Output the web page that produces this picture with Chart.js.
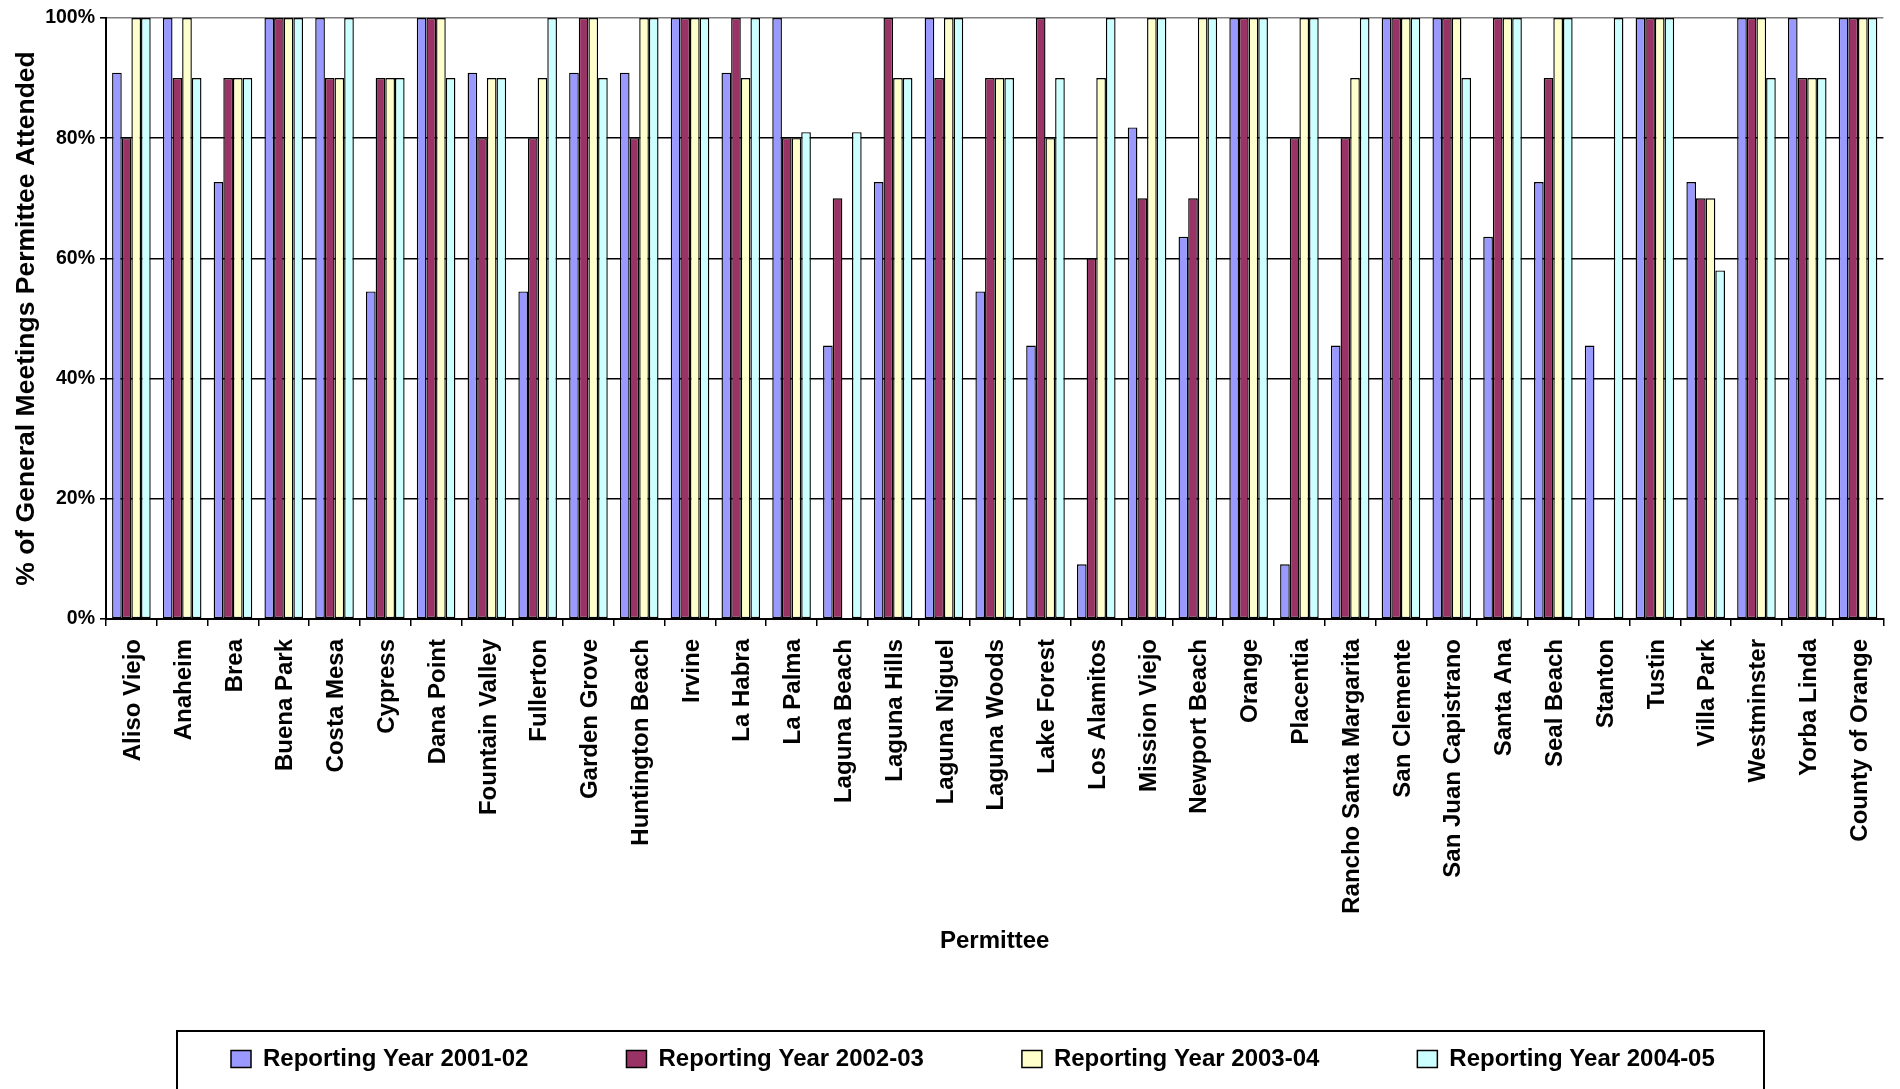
<!DOCTYPE html>
<html>
<head>
<meta charset="utf-8">
<title>General Meetings Attendance by Permittee</title>
<script src="https://cdn.jsdelivr.net/npm/chart.js@4.4.1/dist/chart.umd.min.js"></script>
<style>
  html, body { margin: 0; padding: 0; background: #ffffff; overflow: hidden; }
  canvas { display: block; }
</style>
</head>
<body>
<canvas id="attendance" width="1900" height="1089" style="width:1900px;height:1089px"></canvas>
<script>
// Permittees along the x axis
const categories = [
  'Aliso Viejo', 'Anaheim', 'Brea', 'Buena Park', 'Costa Mesa', 'Cypress', 'Dana Point',
  'Fountain Valley', 'Fullerton', 'Garden Grove', 'Huntington Beach', 'Irvine', 'La Habra',
  'La Palma', 'Laguna Beach', 'Laguna Hills', 'Laguna Niguel', 'Laguna Woods', 'Lake Forest',
  'Los Alamitos', 'Mission Viejo', 'Newport Beach', 'Orange', 'Placentia',
  'Rancho Santa Margarita', 'San Clemente', 'San Juan Capistrano', 'Santa Ana', 'Seal Beach',
  'Stanton', 'Tustin', 'Villa Park', 'Westminster', 'Yorba Linda', 'County of Orange'
];

// % of general meetings attended, one array per reporting year
const year2001_02 = [90.9, 100, 72.7, 100, 100, 54.5, 100, 90.9, 54.5, 90.9, 90.9, 100, 90.9, 100, 45.5, 72.7, 100, 54.5, 45.5, 9.1, 81.8, 63.6, 100, 9.1, 45.5, 100, 100, 63.6, 72.7, 45.5, 100, 72.7, 100, 100, 100];
const year2002_03 = [80, 90, 90, 100, 90, 90, 100, 80, 80, 100, 80, 100, 100, 80, 70, 100, 90, 90, 100, 60, 70, 70, 100, 80, 80, 100, 100, 100, 90, 0, 100, 70, 100, 90, 100];
const year2003_04 = [100, 100, 90, 100, 90, 90, 100, 90, 90, 100, 100, 100, 90, 80, 0, 90, 100, 90, 80, 90, 100, 100, 100, 100, 90, 100, 100, 100, 100, 0, 100, 70, 100, 90, 100];
const year2004_05 = [100, 90, 90, 100, 100, 90, 90, 90, 100, 90, 100, 100, 100, 81, 81, 90, 100, 90, 90, 100, 100, 100, 100, 100, 100, 100, 90, 100, 100, 100, 100, 58, 90, 90, 100];

const seriesNames = ['Reporting Year 2001-02', 'Reporting Year 2002-03', 'Reporting Year 2003-04', 'Reporting Year 2004-05'];
const seriesColors = ['#9999FF', '#993366', '#FFFFCC', '#CCFFFF'];

// y axis tick values (percent)
const yTickValues = [0, 20, 40, 60, 80, 100];

const FONT = "'Liberation Sans', Arial, Helvetica, sans-serif";

// Centres the legend row under the plot and draws the frame around it
const legendFrame = {
  id: 'legendFrame',
  afterLayout(chart) {
    const lg = chart.legend;
    if (!lg || !lg.lineWidths) return;
    const pad = lg.options.labels.padding;
    const start = (lg.left + pad + lg.right - lg.lineWidths[0]) / 2;
    const dx = 231 - start;
    lg.left += dx;
    lg.right += dx;
  },
  afterDraw(chart) {
    const ctx = chart.ctx;
    ctx.save();
    ctx.strokeStyle = '#000000';
    ctx.lineWidth = 2;
    ctx.strokeRect(177, 1031, 1587, 140);
    ctx.restore();
  }
};

const seriesData = [year2001_02, year2002_03, year2003_04, year2004_05];

new Chart(document.getElementById('attendance'), {
  type: 'bar',
  data: {
    labels: categories,
    datasets: seriesData.map((values, i) => ({
      label: seriesNames[i],
      data: values,
      backgroundColor: seriesColors[i],
      borderColor: '#000000',
      borderWidth: 1.4,
      borderSkipped: false,
      categoryPercentage: 0.76,
      barPercentage: 1.0
    }))
  },
  options: {
    responsive: false,
    animation: false,
    devicePixelRatio: 1,
    layout: { padding: { left: 0, right: 12, top: 18, bottom: 8 } },
    plugins: {
      tooltip: { enabled: false },
      legend: {
        display: true,
        position: 'bottom',
        align: 'center',
        labels: {
          color: '#000000',
          font: { family: FONT, size: 24, weight: 'bold' },
          boxWidth: 20,
          boxHeight: 17,
          padding: 98,
          generateLabels(chart) {
            return chart.data.datasets.map((ds, i) => ({
              text: ds.label,
              fillStyle: ds.backgroundColor,
              strokeStyle: '#000000',
              lineWidth: 1.5,
              hidden: false,
              datasetIndex: i,
              fontColor: '#000000'
            }));
          }
        }
      }
    },
    scales: {
      x: {
        offset: true,
        grid: {
          display: true,
          drawOnChartArea: false,
          drawTicks: true,
          offset: true,
          tickLength: 7,
          color: '#000000',
          lineWidth: 1.5
        },
        border: { display: true, color: '#000000', width: 2 },
        ticks: {
          autoSkip: false,
          minRotation: 90,
          maxRotation: 90,
          padding: 13,
          labelOffset: 2,
          color: '#000000',
          font: { family: FONT, size: 24, weight: 'bold' }
        },
        title: {
          display: true,
          text: 'Permittee',
          color: '#000000',
          font: { family: FONT, size: 24, weight: 'bold' },
          padding: { top: 0, bottom: -7 }
        },
        afterFit(scale) { scale.height = 330; }
      },
      y: {
        min: 0,
        max: 100,
        afterBuildTicks(scale) {
          scale.ticks = yTickValues.map(v => ({ value: v }));
        },
        grid: {
          color: (ctx) => (ctx.tick && ctx.tick.value === 100 ? '#808080' : '#000000'),
          tickColor: '#000000',
          tickLength: 6,
          lineWidth: 1.6
        },
        border: { display: true, color: '#000000', width: 2 },
        ticks: {
          padding: 5,
          color: '#000000',
          font: { family: FONT, size: 19.5, weight: 'bold' },
          callback: (v) => v + '%'
        },
        title: {
          display: true,
          text: '% of General Meetings Permittee Attended',
          color: '#000000',
          font: { family: FONT, size: 26.5, weight: 'bold' },
          padding: { top: 11, bottom: 0 }
        },
        afterFit(scale) { scale.width = 106; }
      }
    }
  },
  plugins: [legendFrame]
});
</script>
</body>
</html>
